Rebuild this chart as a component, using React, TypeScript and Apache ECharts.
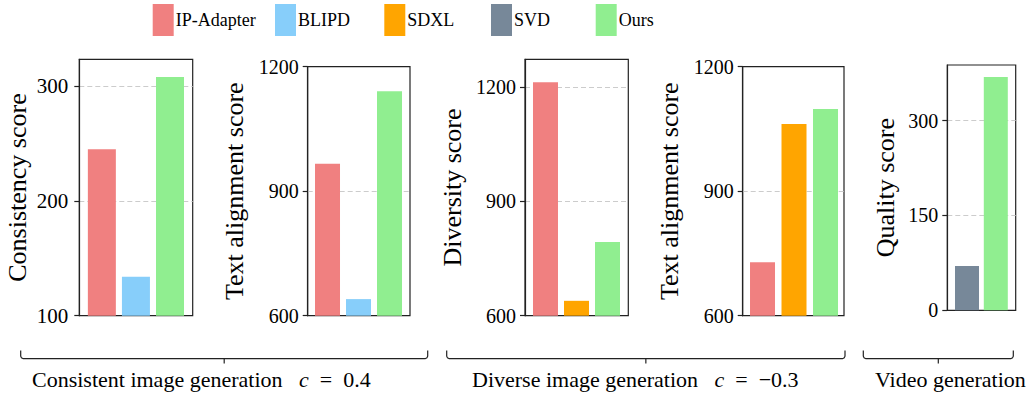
import React, { useEffect, useRef } from 'react';
import * as echarts from 'echarts';

// ---------- data ----------
const methods = ['IP-Adapter', 'BLIPD', 'SDXL', 'SVD', 'Ours'];
const methodColors = ['#F08080', '#87CEFA', '#FFA500', '#778899', '#90EE90'];

const consistentMethods = ['IP-Adapter', 'BLIPD', 'Ours'];
const consistencyScores = [245, 134, 308];
const consistentTextScores = [966, 640, 1141];

const diverseMethods = ['IP-Adapter', 'SDXL', 'Ours'];
const diversityScores = [1212, 639, 793];
const diverseTextScores = [729, 1062, 1098];

const videoMethods = ['SVD', 'Ours'];
const qualityScores = [70, 369];

const yLabels = ['Consistency score', 'Text alignment score', 'Diversity score', 'Text alignment score', 'Quality score'];
const yTicks1 = [100, 200, 300];
const yTicks2 = [600, 900, 1200];
const yTicks3 = [600, 900, 1200];
const yTicks4 = [600, 900, 1200];
const yTicks5 = [0, 150, 300];

const groupLabels = ['Consistent image generation', 'Diverse image generation', 'Video generation'];
const groupParams = ['0.4', '\u22120.3', ''];

// ---------- layout ----------
const FONT = 'Liberation Serif';
const NB = '\u00A0';
const panels = [
  { methods: consistentMethods, values: consistencyScores, ticks: yTicks1, yMin: 100, yMax: 323.5, interval: 100, maxLine: true,
    left: 79.3, top: 59.3, width: 113.4, height: 256.4, xMin: -0.662, xMax: 2.666, barWidth: 28, nameGap: 49, tickFont: 21, tickMargin: 11 },
  { methods: consistentMethods, values: consistentTextScores, ticks: yTicks2, yMin: 600, yMax: 1200, interval: 300, maxLine: false,
    left: 307.7, top: 66.7, width: 102.3, height: 249, xMin: -0.639, xMax: 2.661, barWidth: 25, nameGap: 60, tickFont: 20, tickMargin: 9 },
  { methods: diverseMethods, values: diversityScores, ticks: yTicks3, yMin: 600, yMax: 1272, interval: 300, maxLine: true,
    left: 525, top: 59.3, width: 103.3, height: 256.4, xMin: -0.661, xMax: 2.671, barWidth: 25, nameGap: 60, tickFont: 20, tickMargin: 9 },
  { methods: diverseMethods, values: diverseTextScores, ticks: yTicks4, yMin: 600, yMax: 1200, interval: 300, maxLine: false,
    left: 742.7, top: 66.7, width: 101.3, height: 249, xMin: -0.629, xMax: 2.587, barWidth: 25, nameGap: 60, tickFont: 20, tickMargin: 9 },
  { methods: videoMethods, values: qualityScores, ticks: yTicks5, yMin: 0, yMax: 388, interval: 150, maxLine: true,
    left: 947.3, top: 65, width: 68.4, height: 245.3, xMin: -0.684, xMax: 1.691, barWidth: 24, nameGap: 49, tickFont: 20, tickMargin: 9 },
];
const legendLefts = [152.7, 275, 384.3, 491, 595.7];
const braces = [
  { x0: 20.7, x1: 427.7, textX: 32 },
  { x0: 446.7, x1: 845, textX: 472 },
  { x0: 863.3, x1: 1013.3, textX: 875 },
];

export default function App() {
  const ref = useRef<HTMLDivElement>(null);
  useEffect(() => {
    if (!ref.current) return;
    const chart = echarts.init(ref.current, undefined, { renderer: 'svg' });

    const grid = panels.map((p) => ({
      left: p.left, top: p.top, width: p.width, height: p.height,
      show: true, borderColor: '#222', borderWidth: 1.2, backgroundColor: 'transparent', containLabel: false,
    }));
    const xAxis = panels.map((p, i) => ({
      type: 'value', gridIndex: i, min: p.xMin, max: p.xMax,
      axisLine: { show: false }, axisTick: { show: false }, axisLabel: { show: false }, splitLine: { show: false },
    }));
    const yAxis = panels.map((p, i) => ({
      type: 'value', gridIndex: i, min: p.yMin, max: p.yMax, interval: p.interval,
      name: yLabels[i], nameLocation: 'middle', nameRotate: 90, nameGap: p.nameGap,
      nameTextStyle: { fontFamily: FONT, fontSize: 26, color: '#000' },
      axisLine: { show: true, onZero: false, lineStyle: { color: '#222', width: 1.2 } },
      axisTick: { show: true, inside: false, length: 5, lineStyle: { color: '#222', width: 1.2 }, customValues: p.ticks },
      axisLabel: {
        show: true, margin: p.tickMargin, fontFamily: FONT, fontSize: p.tickFont, color: '#000', customValues: p.ticks,
        formatter: (v: number) => (p.ticks.indexOf(v) >= 0 ? String(v) : ''),
      },
      splitLine: { show: true, showMinLine: false, showMaxLine: p.maxLine, lineStyle: { color: '#cccccc', type: [5, 3], width: 1 } },
    }));

    const series: any[] = [];
    panels.forEach((p, pi) => {
      p.methods.forEach((m, i) => {
        const ci = methods.indexOf(m);
        series.push({
          type: 'bar', name: m, xAxisIndex: pi, yAxisIndex: pi,
          data: [[i, p.values[i]]], barWidth: p.barWidth, barGap: '-100%', clip: true,
          itemStyle: { color: methodColors[ci] }, emphasis: { disabled: true }, silent: true,
        });
      });
    });

    const legend = methods.map((m, i) => ({
      data: [m], left: legendLefts[i], top: 4, itemWidth: 21, itemHeight: 32, icon: 'rect', itemGap: 0,
      padding: 0, selectedMode: false,
      textStyle: { fontFamily: FONT, fontSize: 18, color: '#000', padding: [0, 0, 0, -3] },
    }));

    const graphic: any[] = [];
    braces.forEach((b, i) => {
      const yLine = 358.7;
      const xc = (b.x0 + b.x1) / 2;
      graphic.push({
        type: 'polyline', silent: true,
        shape: { points: [[b.x0, 350.5], [b.x0, 356.2], [b.x0 + 0.8, 357.9], [b.x0 + 2.5, yLine], [b.x1 - 2.5, yLine], [b.x1 - 0.8, 357.9], [b.x1, 356.2], [b.x1, 350.5]] },
        style: { stroke: '#222', lineWidth: 1.2, fill: null },
      });
      graphic.push({
        type: 'line', silent: true,
        shape: { x1: xc, y1: yLine, x2: xc, y2: 363.5 },
        style: { stroke: '#222', lineWidth: 1.2 },
      });
      const txt = groupParams[i]
        ? `${groupLabels[i]}${NB}${NB}${NB}{i|c}${NB}${NB}={n|${NB}${NB}${groupParams[i]}}`
        : groupLabels[i];
      graphic.push({
        type: 'text', silent: true, left: b.textX, top: 368,
        style: {
          text: txt, fontFamily: FONT, fontSize: 22, fill: '#000',
          rich: {
            i: { fontFamily: FONT, fontStyle: 'italic', fontSize: 22, fill: '#000' },
            n: { fontFamily: FONT, fontSize: 22, fill: '#000' },
          },
        },
      });
    });

    chart.setOption({
      animation: false,
      backgroundColor: '#fff',
      textStyle: { fontFamily: FONT },
      legend, grid, xAxis, yAxis, series, graphic,
    } as any);
    return () => chart.dispose();
  }, []);
  return <div ref={ref} style={{ position: 'absolute', left: 0, top: 0, width: 1034, height: 394 }} />;
}
